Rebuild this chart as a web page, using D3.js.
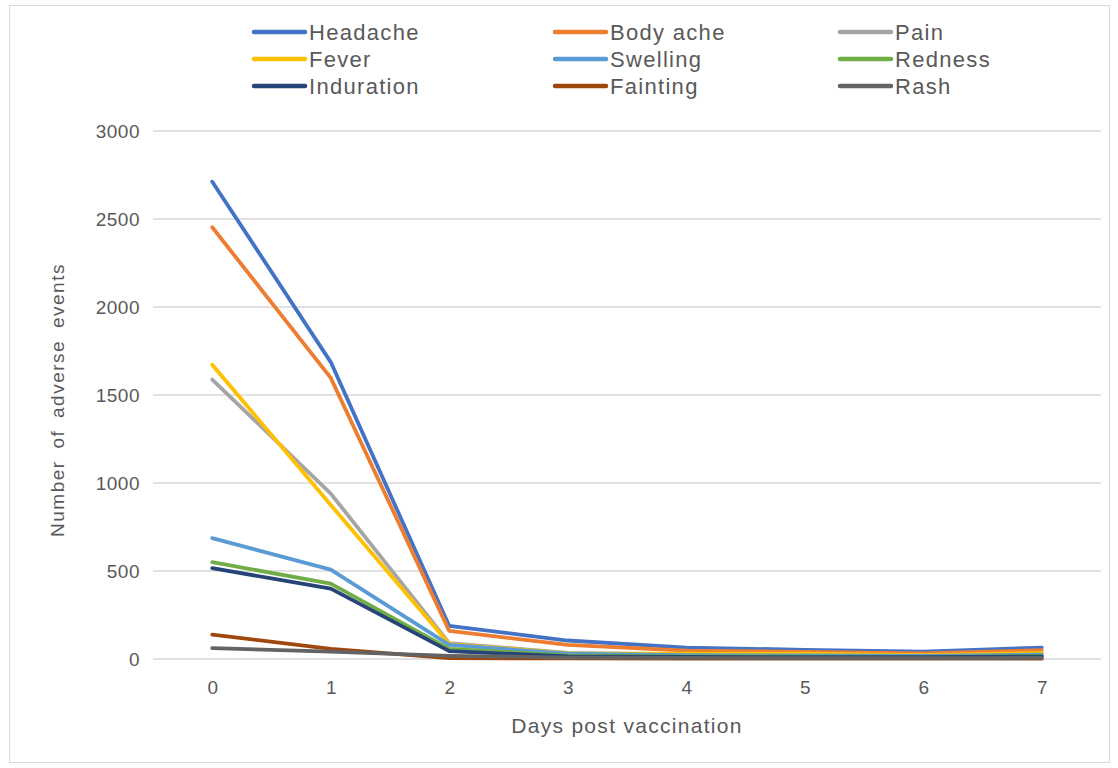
<!DOCTYPE html>
<html>
<head>
<meta charset="utf-8">
<script src="https://cdnjs.cloudflare.com/ajax/libs/d3/7.8.5/d3.min.js"></script>
<style>
  body { margin: 0; background: #fff; }
  text { font-family: "Liberation Sans", Arial, sans-serif; }
</style>
</head>
<body>
<div id="chart"></div>
<script>
// days post vaccination
var days = [0, 1, 2, 3, 4, 5, 6, 7];
var yTicks = [0, 500, 1000, 1500, 2000, 2500, 3000];

var seriesNames = ["Headache", "Body ache", "Pain", "Fever", "Swelling", "Redness", "Induration", "Fainting", "Rash"];
var seriesColors = ["#4472C4", "#ED7D31", "#A5A5A5", "#FFC000", "#5B9BD5", "#70AD47", "#264478", "#9E480E", "#636363"];

var headache   = [2712, 1687, 188, 105, 65, 52, 42, 65];
var bodyAche   = [2453, 1597, 160, 80, 48, 40, 32, 50];
var pain       = [1588, 940, 90, 35, 25, 22, 20, 30];
var fever      = [1672, 875, 85, 32, 30, 30, 22, 35];
var swelling   = [687, 508, 80, 30, 22, 20, 18, 25];
var redness    = [550, 428, 58, 20, 15, 14, 12, 18];
var induration = [516, 400, 45, 15, 12, 10, 10, 14];
var fainting   = [138, 58, 5, 3, 2, 2, 2, 2];
var rash       = [62, 42, 18, 8, 6, 5, 5, 6];

var seriesValues = [headache, bodyAche, pain, fever, swelling, redness, induration, fainting, rash];

var W = 1118, H = 768;
var margin = {top: 131, left: 153, right: 17, bottom: 109};

var svg = d3.select("#chart").append("svg")
    .attr("width", W)
    .attr("height", H);

// chart frame
svg.append("rect")
    .attr("x", 9.5).attr("y", 5.5)
    .attr("width", 1100).attr("height", 757)
    .attr("fill", "#fff")
    .attr("stroke", "#d9d9d9")
    .attr("stroke-width", 1);

var x = d3.scalePoint()
    .domain(days)
    .range([margin.left, W - margin.right])
    .padding(0.5);

var y = d3.scaleLinear()
    .domain([0, 3000])
    .range([H - margin.bottom, margin.top]);

// gridlines
svg.append("g")
    .selectAll("line")
    .data(yTicks)
    .enter().append("line")
    .attr("x1", margin.left)
    .attr("x2", W - margin.right)
    .attr("y1", function(d) { return y(d); })
    .attr("y2", function(d) { return y(d); })
    .attr("stroke", "#d9d9d9")
    .attr("stroke-width", 1.3);

// y axis labels
var yAxis = d3.axisLeft(y).tickValues(yTicks).tickFormat(d3.format("d")).tickSize(0).tickPadding(13);
var gy = svg.append("g")
    .attr("transform", "translate(" + margin.left + ",0)")
    .call(yAxis);
gy.select(".domain").remove();
gy.selectAll("text")
    .attr("fill", "#595959")
    .style("font-size", "19px")
    .style("letter-spacing", "0.5px");

// x axis labels
var xAxis = d3.axisBottom(x).tickSize(0).tickPadding(22);
var gx = svg.append("g")
    .attr("transform", "translate(0," + y(0) + ")")
    .call(xAxis);
gx.select(".domain").remove();
gx.selectAll("text")
    .attr("fill", "#595959")
    .style("font-size", "19px");

// axis titles
svg.append("text")
    .attr("x", (x(0) + x(7)) / 2)
    .attr("y", 733)
    .attr("text-anchor", "middle")
    .attr("fill", "#595959")
    .style("font-size", "21px")
    .style("letter-spacing", "1.3px")
    .text("Days post vaccination");

svg.append("text")
    .attr("transform", "translate(64," + ((y(0) + y(3000)) / 2 + 5) + ") rotate(-90)")
    .attr("text-anchor", "middle")
    .attr("fill", "#595959")
    .style("font-size", "19px")
    .style("letter-spacing", "1.5px")
    .style("word-spacing", "5px")
    .text("Number of adverse events");

// lines
var line = d3.line()
    .x(function(d, i) { return x(days[i]); })
    .y(function(d) { return y(d); });

svg.append("g")
    .selectAll("path")
    .data(seriesValues)
    .enter().append("path")
    .attr("d", line)
    .attr("fill", "none")
    .attr("stroke", function(d, i) { return seriesColors[i]; })
    .attr("stroke-width", 3.8)
    .attr("stroke-linejoin", "round")
    .attr("stroke-linecap", "round");

// legend
var legendCols = [254, 555, 840];
var legendRows = [32, 59, 86];

var legend = svg.append("g")
    .selectAll("g")
    .data(seriesNames)
    .enter().append("g")
    .attr("transform", function(d, i) {
        return "translate(" + legendCols[i % 3] + "," + legendRows[Math.floor(i / 3)] + ")";
    });

legend.append("line")
    .attr("x1", 0).attr("x2", 51)
    .attr("y1", 0).attr("y2", 0)
    .attr("stroke", function(d, i) { return seriesColors[i]; })
    .attr("stroke-width", 4.5)
    .attr("stroke-linecap", "round");

legend.append("text")
    .attr("x", 55)
    .attr("y", 8)
    .attr("fill", "#595959")
    .style("font-size", "22px")
    .style("letter-spacing", "1.3px")
    .text(function(d) { return d; });
</script>
</body>
</html>
